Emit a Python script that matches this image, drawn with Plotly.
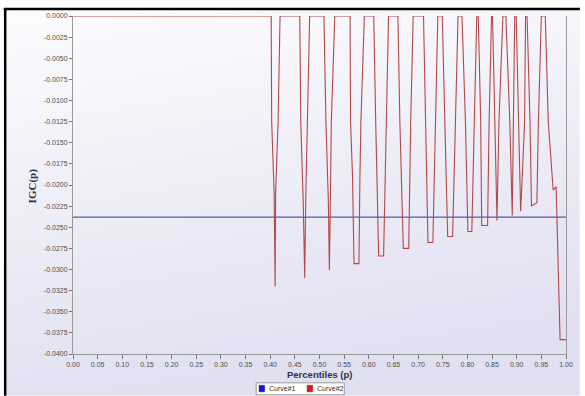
import base64
import plotly.graph_objects as go

# Curve#1: constant reference level
curve1_p = [0.0, 1.0]
curve1_igc = [-0.0238, -0.0238]

# Curve#2: IGC(p) by percentile
curve2_p = [
    0.000, 0.402,
    0.403, 0.408, 0.410, 0.411, 0.416, 0.420,
    0.460, 0.462, 0.467, 0.470, 0.472, 0.476, 0.480,
    0.509, 0.513, 0.518, 0.520, 0.522, 0.524, 0.531,
    0.562, 0.563, 0.567, 0.570, 0.580, 0.582, 0.584, 0.591,
    0.610, 0.614, 0.620, 0.630, 0.635, 0.640,
    0.659, 0.663, 0.670, 0.681, 0.685, 0.690,
    0.711, 0.715, 0.720, 0.730, 0.735, 0.740,
    0.749, 0.754, 0.760, 0.770, 0.776, 0.781,
    0.789, 0.796, 0.801, 0.809, 0.814, 0.819,
    0.822, 0.827, 0.829, 0.841, 0.844, 0.849,
    0.851, 0.856, 0.860, 0.864, 0.872,
    0.878, 0.886, 0.891, 0.893, 0.896,
    0.899, 0.904, 0.908, 0.912, 0.916, 0.918,
    0.921, 0.927, 0.930, 0.941, 0.944, 0.950,
    0.958, 0.964, 0.974, 0.980, 0.988, 1.000,
]
curve2_igc = [
    0.0, 0.0,
    -0.0125, -0.0210, -0.0320, -0.0210, -0.0125, 0.0,
    0.0, -0.0125, -0.0220, -0.0310, -0.0220, -0.0125, 0.0,
    0.0, -0.0125, -0.0220, -0.0301, -0.0220, -0.0125, 0.0,
    0.0, -0.0125, -0.0190, -0.0293, -0.0293, -0.0190, -0.0125, 0.0,
    0.0, -0.0125, -0.0284, -0.0284, -0.0125, 0.0,
    0.0, -0.0125, -0.0275, -0.0275, -0.0125, 0.0,
    0.0, -0.0125, -0.0268, -0.0268, -0.0125, 0.0,
    0.0, -0.0125, -0.0261, -0.0261, -0.0125, 0.0,
    0.0, -0.0125, -0.0255, -0.0255, -0.0125, 0.0,
    0.0, -0.0125, -0.0248, -0.0248, -0.0125, 0.0,
    0.0, -0.0125, -0.0242, -0.0125, 0.0,
    0.0, -0.0125, -0.0236, -0.0125, 0.0,
    0.0, -0.0125, -0.0231, -0.0180, -0.0125, 0.0,
    0.0, -0.0125, -0.0225, -0.0221, -0.0125, 0.0,
    0.0, -0.0125, -0.0206, -0.0202, -0.0383, -0.0383,
]

x_tick_vals = [0.00, 0.05, 0.10, 0.15, 0.20, 0.25, 0.30, 0.35, 0.40, 0.45, 0.50,
               0.55, 0.60, 0.65, 0.70, 0.75, 0.80, 0.85, 0.90, 0.95, 1.00]
x_tick_text = ["0.00", "0.05", "0.10", "0.15", "0.20", "0.25", "0.30", "0.35", "0.40",
               "0.45", "0.50", "0.55", "0.60", "0.65", "0.70", "0.75", "0.80", "0.85",
               "0.90", "0.95", "1.00"]
y_tick_vals = [0.0, -0.0025, -0.0050, -0.0075, -0.0100, -0.0125, -0.0150, -0.0175,
               -0.0200, -0.0225, -0.0250, -0.0275, -0.0300, -0.0325, -0.0350, -0.0375,
               -0.0400]
y_tick_text = ["0.0000", "-0.0025", "-0.0050", "-0.0075", "-0.0100", "-0.0125", "-0.0150",
               "-0.0175", "-0.0200", "-0.0225", "-0.0250", "-0.0275", "-0.0300", "-0.0325",
               "-0.0350", "-0.0375", "-0.0400"]

series_names = ["Curve#1", "Curve#2"]
series_colors = ["rgb(90,90,165)", "rgb(180,72,72)"]
legend_colors = ["#1616d0", "#e01818"]

W, H = 585, 396
ML, MR, MT, MB = 73, 14, 14, 42
PW, PH = W - ML - MR, H - MT - MB


def px(xp):
    return (xp - ML) / PW


def py(yp):
    return (H - MB - yp) / PH


fig = go.Figure()
fig.add_trace(go.Scatter(x=curve1_p, y=curve1_igc, mode="lines", name=series_names[0],
                         line=dict(color=series_colors[0], width=1.2), showlegend=False))
fig.add_trace(go.Scatter(x=curve2_p, y=curve2_igc, mode="lines", name=series_names[1],
                         line=dict(color=series_colors[1], width=1.1), showlegend=False))

# soft lavender backdrop behind the plot area
svg = ('<svg xmlns="http://www.w3.org/2000/svg" width="100" height="100" viewBox="0 0 100 100" '
       'preserveAspectRatio="none"><defs><linearGradient id="g" x1="0" y1="0" x2="0.25" y2="1">'
       '<stop offset="0" stop-color="#fcfcfe"/><stop offset="1" stop-color="#e0e0f1"/>'
       '</linearGradient></defs><rect width="100" height="100" fill="url(#g)"/></svg>')
bg_src = "data:image/svg+xml;base64," + base64.b64encode(svg.encode()).decode()

tick_font = dict(family="Liberation Sans, Arial, sans-serif", size=7, color="#505050")

shapes = [
    # black frame edges
    dict(type="line", xref="paper", yref="paper", x0=px(3), x1=px(W), y0=py(7), y1=py(7),
         line=dict(color="black", width=2.5)),
    dict(type="line", xref="paper", yref="paper", x0=px(4.5), x1=px(4.5), y0=py(6), y1=py(H),
         line=dict(color="black", width=2.5)),
    # legend box
    dict(type="rect", xref="paper", yref="paper", x0=px(258), x1=px(347), y0=py(395), y1=py(383),
         line=dict(color="#9a9a9a", width=1), fillcolor="white"),
    dict(type="rect", xref="paper", yref="paper", x0=px(261), x1=px(266.5), y0=py(392), y1=py(385.5),
         line=dict(color="#101080", width=0.5), fillcolor=legend_colors[0]),
    dict(type="rect", xref="paper", yref="paper", x0=px(309.5), x1=px(315), y0=py(392), y1=py(385.5),
         line=dict(color="#801010", width=0.5), fillcolor=legend_colors[1]),
]

annotations = [
    dict(text="<b>Percentiles (p)</b>", xref="paper", yref="paper", x=px(322), y=py(375),
         xanchor="center", yanchor="middle", showarrow=False,
         font=dict(family="Liberation Sans, Arial, sans-serif", size=9.5, color="#333344")),
    dict(text="<b>IGC(p)</b>", xref="paper", yref="paper", x=px(33), y=py(185),
         xanchor="center", yanchor="middle", showarrow=False, textangle=-90,
         font=dict(family="Liberation Serif, Times New Roman, serif", size=11, color="#333344")),
    dict(text=series_names[0], xref="paper", yref="paper", x=px(269), y=py(389),
         xanchor="left", yanchor="middle", showarrow=False,
         font=dict(family="Liberation Sans, Arial, sans-serif", size=7, color="#333333")),
    dict(text=series_names[1], xref="paper", yref="paper", x=px(317), y=py(389),
         xanchor="left", yanchor="middle", showarrow=False,
         font=dict(family="Liberation Sans, Arial, sans-serif", size=7, color="#333333")),
]

fig.update_layout(
    width=W, height=H, autosize=False,
    margin=dict(l=ML, r=MR, t=MT, b=MB, pad=0),
    paper_bgcolor="white", plot_bgcolor="white",
    showlegend=False,
    images=[dict(source=bg_src, xref="paper", yref="paper", x=px(5.5), y=py(8),
                 sizex=(W - 5.5) / PW, sizey=(H - 8) / PH, xanchor="left", yanchor="top",
                 sizing="stretch", layer="below")],
    shapes=shapes,
    annotations=annotations,
    xaxis=dict(range=[0, 1], tickvals=x_tick_vals, ticktext=x_tick_text, ticks="outside",
               ticklen=4, tickcolor="#777777", showline=True, linecolor="#9a9a9a", linewidth=1,
               showgrid=False, zeroline=False, tickfont=tick_font),
    yaxis=dict(range=[-0.04, 0], tickvals=y_tick_vals, ticktext=y_tick_text, ticks="outside",
               ticklen=3, tickcolor="#777777", showline=True, linecolor="#9a9a9a", linewidth=1,
               mirror=True, showgrid=False, zeroline=False, tickfont=tick_font),
)

fig.write_html("out.html", config={"displayModeBar": False})
